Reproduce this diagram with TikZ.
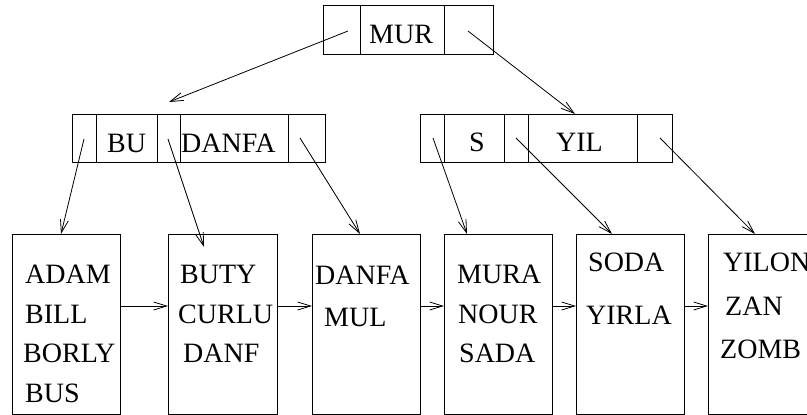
\documentclass[tikz,border=0pt]{standalone}
\usepackage{fontspec}
\setmainfont{Liberation Serif}
\usetikzlibrary{arrows.meta,calc}
\begin{document}
\begin{tikzpicture}[x=1pt,y=-1pt,
  cell/.style={draw, line width=0.9pt, inner sep=0pt, anchor=north west},
  leaf/.style={draw, line width=0.9pt, inner sep=0pt, anchor=north west, minimum width=108pt, minimum height=180pt},
  lbl/.style={anchor=base west, inner sep=0pt, font=\fontsize{28}{34}\selectfont},
  ptr/.style={line width=0.8pt, -{Straight Barb[length=13pt,width=8pt]}},
]
\useasboundingbox (0,0) rectangle (807,415);
\clip (0,0) rectangle (807,415);

% root
\node[cell, minimum width=37pt, minimum height=49pt] (R1) at (323,5) {};
\node[cell, minimum width=84pt, minimum height=49pt] (R2) at (360,5) {};
\node[cell, minimum width=49pt, minimum height=49pt] (R3) at (444,5) {};
\node[lbl] (tR) at (369,43) {MUR};

% left internal node
\node[cell, minimum width=24pt, minimum height=48pt] (A1) at (72,114) {};
\node[cell, minimum width=61pt, minimum height=48pt] (A2) at (96,114) {};
\node[cell, minimum width=23pt, minimum height=48pt] (A3) at (157,114) {};
\node[cell, minimum width=108pt, minimum height=48pt] (A4) at (180,114) {};
\node[cell, minimum width=37pt, minimum height=48pt] (A5) at (288,114) {};
\node[lbl] (tA2) at (107,152) {BU};
\node[lbl] (tA4) at (181,152) {DANFA};

% right internal node
\node[cell, minimum width=24pt, minimum height=48pt] (B1) at (420,114) {};
\node[cell, minimum width=60pt, minimum height=48pt] (B2) at (444,114) {};
\node[cell, minimum width=24pt, minimum height=48pt] (B3) at (504,114) {};
\node[cell, minimum width=109pt, minimum height=48pt] (B4) at (528,114) {};
\node[cell, minimum width=35pt, minimum height=48pt] (B5) at (637,114) {};
\node[lbl] (tB2) at (469,151) {S};
\node[lbl] (tB4) at (556,151) {YIL};

% leaves
\node[leaf] (L1) at (12,234) {};
\node[leaf, minimum width=109pt] (L2) at (168,234) {};
\node[leaf] (L3) at (312,234) {};
\node[leaf] (L4) at (444,234) {};
\node[leaf] (L5) at (576,234) {};
\node[leaf] (L6) at (708,234) {};

\node[lbl] (l1a) at (25,283) {ADAM};
\node[lbl] (l1b) at (25,323) {BILL};
\node[lbl] (l1c) at (23,362) {BORLY};
\node[lbl] (l1d) at (25,402) {BUS};
\node[lbl] (l2a) at (180,283) {BUTY};
\node[lbl] (l2b) at (178,323) {CURLU};
\node[lbl] (l2c) at (183,362) {DANF};
\node[lbl] (l3a) at (315,284) {DANFA};
\node[lbl] (l3b) at (324,326) {MUL};
\node[lbl] (l4a) at (457,283) {MURA};
\node[lbl] (l4b) at (458,323) {NOUR};
\node[lbl] (l4c) at (459,362) {SADA};
\node[lbl] (l5a) at (588,271) {SODA};
\node[lbl] (l5b) at (586,324) {YIRLA};
\node[lbl] (l6a) at (723,271) {YILON};
\node[lbl] (l6b) at (725,315) {ZAN};
\node[lbl] (l6c) at (720,358) {ZOMB};

% pointer start points
\coordinate (pR1) at (348,31);
\coordinate (pR3) at (468,31);
\coordinate (pA1) at (84,139);
\coordinate (pA3) at (168,139);
\coordinate (pA5) at (300,138);
\coordinate (pB1) at (433,138);
\coordinate (pB3) at (516,138);
\coordinate (pB5) at (660,138);

\draw[ptr] (pR1) -- ($(A3.north)+(0,-12)$);
\draw[ptr] (pR3) -- ($(B4.north west)+(47,0)$);
\draw[ptr] (pA1) -- ($(L1.north west)+(49,0)$);
\draw[ptr] (pA3) -- ($(L2.north west)+(36,13)$);
\draw[ptr] (pA5) -- ($(L3.north west)+(48,0)$);
\draw[ptr] (pB1) -- ($(L4.north west)+(23,0)$);
\draw[ptr] (pB3) -- ($(L5.north west)+(36,0)$);
\draw[ptr] (pB5) -- ($(L6.north west)+(47,0)$);

% leaf chain
\draw[ptr] ($(L1.north east)+(0,72)$) -- ($(L2.north west)+(0,72)$);
\draw[ptr] ($(L2.north east)+(0,72)$) -- ($(L3.north west)+(0,72)$);
\draw[ptr] ($(L3.north east)+(0,72)$) -- ($(L4.north west)+(0,72)$);
\draw[ptr] ($(L4.north east)+(0,72)$) -- ($(L5.north west)+(0,72)$);
\draw[ptr] ($(L5.north east)+(0,72)$) -- ($(L6.north west)+(0,72)$);
\end{tikzpicture}
\end{document}
